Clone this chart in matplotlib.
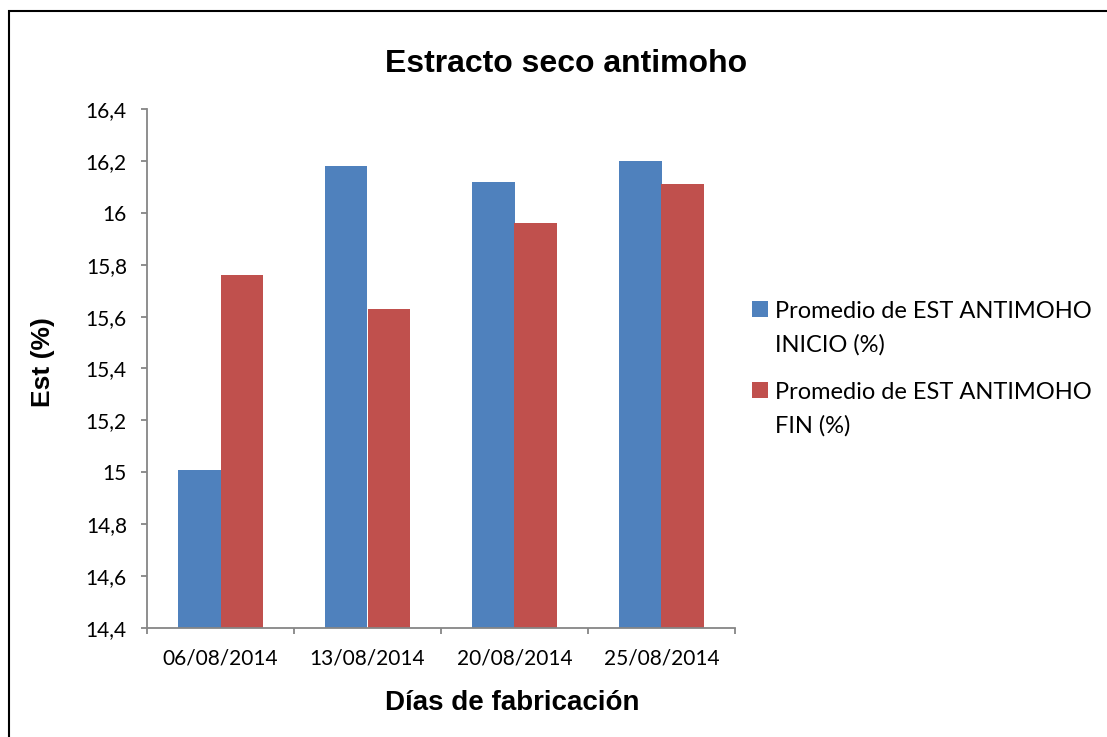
import matplotlib
matplotlib.use("Agg")
import matplotlib.pyplot as plt
from matplotlib.patches import Rectangle
import numpy as np

categories = ["06/08/2014", "13/08/2014", "20/08/2014", "25/08/2014"]
inicio = [15.01, 16.18, 16.12, 16.20]
fin = [15.76, 15.63, 15.96, 16.11]
series_labels = ["Promedio de EST ANTIMOHO\nINICIO (%)", "Promedio de EST ANTIMOHO\nFIN (%)"]
yticks = [14.4, 14.6, 14.8, 15.0, 15.2, 15.4, 15.6, 15.8, 16.0, 16.2, 16.4]

BLUE = "#4F81BD"
RED = "#C0504D"
AXIS = "#868686"
TICK_FONT = ["Lato", "DejaVu Sans"]
BOLD_FONT = ["Liberation Sans", "DejaVu Sans"]

W, H = 1107, 737
fig = plt.figure(figsize=(W / 100, H / 100), dpi=100)
ax = fig.add_axes([147 / W, 1 - 628 / H, (735 - 147) / W, (628 - 109) / H])

x = np.arange(len(categories))
bw = 0.286
bars_inicio = ax.bar(x - bw / 2, inicio, bw, color=BLUE)
bars_fin = ax.bar(x + bw / 2, fin, bw, color=RED)

ax.set_xlim(-0.5, len(categories) - 0.5)
ax.set_ylim(14.4, 16.4)
ax.set_yticks(yticks)
ax.set_yticklabels([f"{v:g}".replace(".", ",") for v in yticks],
                   family=TICK_FONT, fontsize=15)
ax.set_xticks(x)
ax.set_xticklabels(categories, family=TICK_FONT, fontsize=15)
ax.set_xticks(np.arange(len(categories) + 1) - 0.5, minor=True)

for s in ["top", "right"]:
    ax.spines[s].set_visible(False)
for s in ["left", "bottom"]:
    ax.spines[s].set_color(AXIS)
    ax.spines[s].set_linewidth(1.3)

ax.tick_params(axis="y", direction="out", length=4.5, width=1.3, color=AXIS, pad=10)
ax.tick_params(axis="x", which="major", length=0, pad=14.5)
ax.tick_params(axis="x", which="minor", direction="out", length=4.5, width=1.3, color=AXIS)

fig.text(43 / W, 1 - 362 / H, "Est (%)", family=BOLD_FONT, fontweight="bold",
         fontsize=19, rotation=90, ha="center", va="center")
fig.text(512 / W, 1 - 703 / H, "Días de fabricación", family=BOLD_FONT,
         fontweight="bold", fontsize=20, ha="center", va="center")
fig.text(566 / W, 1 - 64 / H, "Estracto seco antimoho", family=BOLD_FONT,
         fontweight="bold", fontsize=23, ha="center", va="center")

# legend: colour square plus two-line label for each series
legend_rows = [(bars_inicio, 318), (bars_fin, 399)]
for (bars, baseline), label in zip(legend_rows, series_labels):
    color = bars.patches[0].get_facecolor()
    fig.patches.append(Rectangle((752 / W, 1 - (baseline - 1) / H), 16 / W, 16 / H,
                                 transform=fig.transFigure, facecolor=color,
                                 edgecolor="none"))
    for k, line in enumerate(label.split("\n")):
        fig.text(775 / W, 1 - (baseline + 34 * k) / H, line, family=TICK_FONT,
                 fontsize=17, ha="left", va="baseline")

# outer frame around the chart area
fig.patches.append(Rectangle((8.5 / W, -0.1), 1.2, 1 - 10.5 / H + 0.1,
                             transform=fig.transFigure, fill=False,
                             edgecolor="black", linewidth=1.5))

fig.savefig("out.png", dpi=100)
